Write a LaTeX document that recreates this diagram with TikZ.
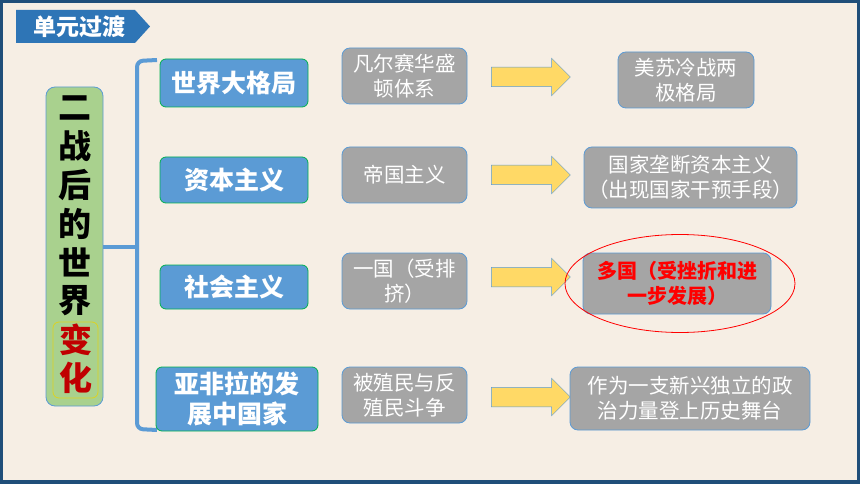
\documentclass[tikz,border=0pt]{standalone}
\usepackage{fontspec}
\usepackage{xcolor}
\usetikzlibrary{shapes.arrows}
\newfontfamily\cjk{Noto Sans CJK SC}
\definecolor{framecol}{HTML}{1F4E79}
\definecolor{paper}{HTML}{F6EEE4}
\definecolor{tagblue}{HTML}{2E75B6}
\definecolor{catblue}{HTML}{5B9BD5}
\definecolor{catedge}{HTML}{00B050}
\definecolor{boxgray}{HTML}{A5A5A5}
\definecolor{leafgreen}{HTML}{A9D18E}
\definecolor{arrowyellow}{HTML}{FFD966}
\definecolor{darkred}{HTML}{C00000}

\begin{document}
\begin{tikzpicture}[x=1pt,y=-1pt,
  catbox/.style={fill=catblue,draw=catedge,line width=0.8pt,rounded corners=6pt,
    text=white,align=center,inner sep=0pt,
    font=\cjk\bfseries\fontsize{25}{30}\selectfont},
  oldbox/.style={fill=boxgray,draw=catblue,line width=0.8pt,rounded corners=8pt,
    text=white,align=center,inner sep=0pt,
    font=\cjk\fontsize{20.5}{25}\selectfont},
  yarrow/.style={single arrow,fill=arrowyellow,draw=catblue,line width=0.5pt,
    minimum height=79pt,single arrow head extend=9pt,inner xsep=0pt,inner ysep=9.5pt},
  bigchar/.style={font=\cjk\bfseries\fontsize{33}{33}\selectfont,inner sep=0pt},
  brace/.style={draw=catblue,line width=4pt,rounded corners=6pt}]
  \useasboundingbox (0,0) rectangle (860,484);

  % background and frame
  \fill[paper] (0,0) rectangle (860,484);
  \draw[framecol,line width=3pt] (1.5,1.5) rectangle (858.5,482.5);
  \fill[framecol] (0,480) rectangle (860,484);

  % title tag
  \fill[tagblue] (16,10) -- (135,10) -- (150,26.5) -- (135,43) -- (16,43) -- cycle;
  \node[text=white,font=\cjk\bfseries\fontsize{23}{23}\selectfont,inner sep=0pt]
    (title) at (80,26.5) {单元过渡};

  % left green column
  \node[fill=leafgreen,draw=catblue,line width=0.8pt,rounded corners=9pt,
    minimum width=57pt,minimum height=319pt] (world) at (74.5,246.5) {};
  \node[draw=yellow!85!black,line width=0.8pt,rounded corners=6pt,
    minimum width=45pt,minimum height=76pt] (change) at (75.5,360) {};
  \foreach \ch [count=\i from 0] in {二,战,后,的,世,界}
    \node[bigchar] (ch\i) at (74.5,108+38.6*\i) {\ch};
  \foreach \ch [count=\i from 6] in {变,化}
    \node[bigchar,text=darkred] (ch\i) at (75.5,108+38.6*\i) {\ch};

  % bracket
  \coordinate (brtop) at (157,60);
  \coordinate (brbot) at (157,430);
  \draw[brace] (brtop) -- (137,61) -- (137,429) -- (brbot);
  \draw[brace] (world.east) -- (137,246.5);

  % categories
  \node[catbox,minimum width=148pt,minimum height=48pt] (cat1) at (234,83) {世界大格局};
  \node[catbox,minimum width=148pt,minimum height=46pt] (cat2) at (234,180) {资本主义};
  \node[catbox,minimum width=148pt,minimum height=44pt] (cat3) at (234,287) {社会主义};
  \node[catbox,minimum width=162pt,minimum height=64pt] (cat4) at (237,399) {亚非拉的发\\展中国家};

  % before
  \node[oldbox,minimum width=125pt,minimum height=56pt] (old1) at (404.5,76) {凡尔赛华盛\\顿体系};
  \node[oldbox,minimum width=125pt,minimum height=56pt] (old2) at (404.5,175) {帝国主义};
  \node[oldbox,minimum width=125pt,minimum height=56pt] (old3) at (404.5,281) {一国（受排\\挤）};
  \node[oldbox,minimum width=125pt,minimum height=56pt] (old4) at (404.5,395) {被殖民与反\\殖民斗争};

  % arrows
  \foreach \y [count=\i] in {77,175,277,397}
    \node[yarrow] (arr\i) at (526,\y) {};

  % after
  \node[oldbox,minimum width=136pt,minimum height=56pt] (new1) at (686,80) {美苏冷战两\\极格局};
  \node[oldbox,minimum width=213pt,minimum height=61pt] (new2) at (690.5,177.5) {国家垄断资本主义\\（出现国家干预手段）};
  \node[oldbox,minimum width=188pt,minimum height=61pt,text=red,
    font=\cjk\bfseries\fontsize{20}{25}\selectfont] (new3) at (677,283.5) {多国（受挫折和进\\一步发展）};
  \node[oldbox,minimum width=240pt,minimum height=63pt] (new4) at (690,398.5) {作为一支新兴独立的政\\治力量登上历史舞台};

  % highlight
  \draw[red,line width=0.8pt] ([xshift=3pt]new3.center) ellipse [x radius=115pt,y radius=49pt];
\end{tikzpicture}
\end{document}
